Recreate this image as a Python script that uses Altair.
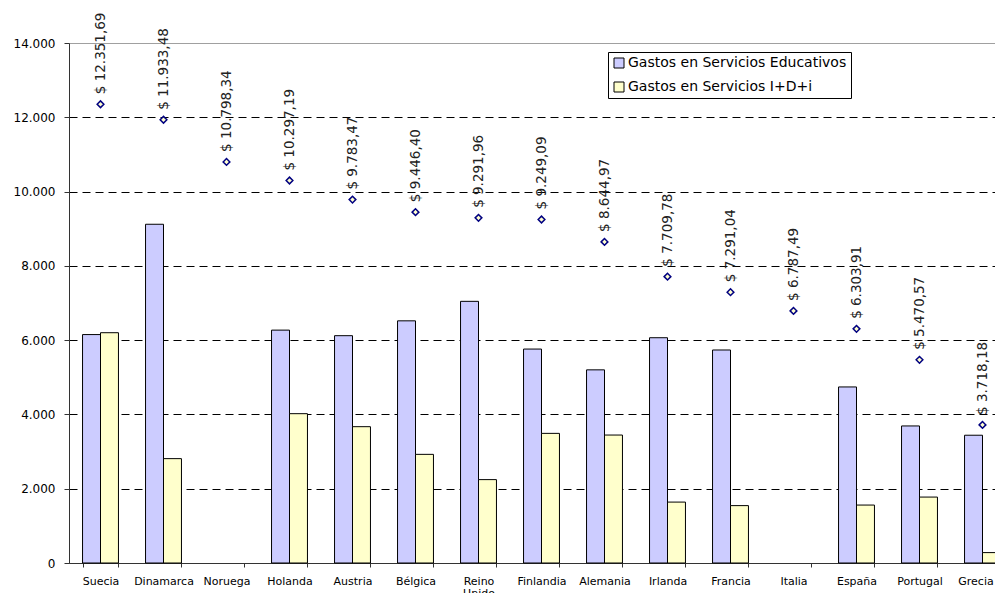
import altair as alt
import pandas as pd

paises = ["Suecia", "Dinamarca", "Noruega", "Holanda", "Austria", "Bélgica", "Reino Unido",
          "Finlandia", "Alemania", "Irlanda", "Francia", "Italia", "España", "Portugal", "Grecia"]
educativos = [6150, 9120, None, 6270, 6120, 6520, 7045, 5760, 5200, 6065, 5735, None, 4740, 3690, 3440]
idi = [6200, 2810, None, 4020, 3670, 2925, 2245, 3490, 3445, 1640, 1545, None, 1560, 1775, 280]
totales = [12351.69, 11933.48, 10798.34, 10297.19, 9783.47, 9446.40, 9291.96, 9249.09,
           8644.97, 7709.78, 7291.04, 6787.49, 6303.91, 5470.57, 3718.18]
series = ["Gastos en Servicios Educativos", "Gastos en Servicios I+D+i"]
colores = ["#CCCCFF", "#FFFFCC"]
y_ticks = [0, 2000, 4000, 6000, 8000, 10000, 12000, 14000]

rows = []
for p, e, i in zip(paises, educativos, idi):
    if e is not None:
        rows.append({"pais": p, "serie": series[0], "valor": e})
    if i is not None:
        rows.append({"pais": p, "serie": series[1], "valor": i})
bars_df = pd.DataFrame(rows)


def fmt(v):
    s = f"{v:,.2f}"
    return "$ " + s.replace(",", "X").replace(".", ",").replace("X", ".")


tot_df = pd.DataFrame({"pais": paises, "total": totales, "label": [fmt(v) for v in totales]})

x_scale = alt.Scale(domain=paises, range=[0, 945], paddingInner=0.43, paddingOuter=0.215)
y_scale = alt.Scale(domain=[0, 14000], nice=False)

x_axis = alt.Axis(title=None, labelAngle=0, tickBand="extent", labelExpr="split(datum.label, ' ')",
                  labelOffset={"condition": {"test": "datum.value === 'Grecia'", "value": -7}, "value": 0},
                  domainColor="#333333", tickColor="#333333", tickSize=4, labelPadding=8,
                  labelFont="DejaVu Sans", labelFontSize=11, labelColor="#000000", labelLineHeight=12)
y_axis = alt.Axis(title=None, values=y_ticks,
                  labelExpr="replace(format(datum.value, ','), ',', '.')",
                  grid=True,
                  gridColor={"condition": {"test": "datum.value === 14000", "value": "#808080"}, "value": "#000000"},
                  gridDash={"condition": {"test": "datum.value === 14000", "value": [1, 0]}, "value": [8, 5]},
                  gridWidth=1,
                  domainColor="#333333", tickColor="#333333", tickSize=5, labelPadding=9,
                  labelFont="DejaVu Sans", labelFontSize=12, labelColor="#000000")

bars = alt.Chart(bars_df).mark_bar(stroke="black", strokeWidth=1).encode(
    x=alt.X("pais:N", scale=x_scale, axis=x_axis),
    xOffset=alt.XOffset("serie:N", sort=series, scale=alt.Scale(domain=series, paddingInner=0, paddingOuter=0)),
    y=alt.Y("valor:Q", scale=y_scale, axis=y_axis),
    color=alt.Color("serie:N", scale=alt.Scale(domain=series, range=colores),
                    legend=alt.Legend(title=None, orient="none", legendX=539, legendY=9,
                                      fillColor="white", strokeColor="black", padding=4,
                                      labelFont="DejaVu Sans", labelFontSize=14, labelColor="#000000",
                                      labelLimit=400,
                                      symbolType="square", symbolSize=100, symbolStrokeColor="black",
                                      symbolStrokeWidth=1, rowPadding=10, labelOffset=2, cornerRadius=0)),
)

points = alt.Chart(tot_df).mark_point(shape="diamond", filled=True, fill="#FFFFCC", stroke="#000080",
                                      strokeWidth=1.5, size=45, opacity=1).encode(
    x=alt.X("pais:N", scale=x_scale, axis=x_axis),
    y=alt.Y("total:Q", scale=y_scale, axis=y_axis),
)

labels = alt.Chart(tot_df).mark_text(angle=270, align="left", baseline="middle", dx=10,
                                     font="DejaVu Sans", fontSize=13.5, color="#222222").encode(
    x=alt.X("pais:N", scale=x_scale, axis=x_axis),
    y=alt.Y("total:Q", scale=y_scale, axis=y_axis),
    text="label:N",
)

chart = alt.layer(bars, points, labels).properties(
    width=926, height=520,
    autosize=alt.AutoSizeParams(type="none"),
    padding={"left": 61, "top": 35, "right": 0, "bottom": 30},
    background="white",
).configure_view(stroke=None)

chart.save("out.html", embed_options={"renderer": "svg", "actions": False})
